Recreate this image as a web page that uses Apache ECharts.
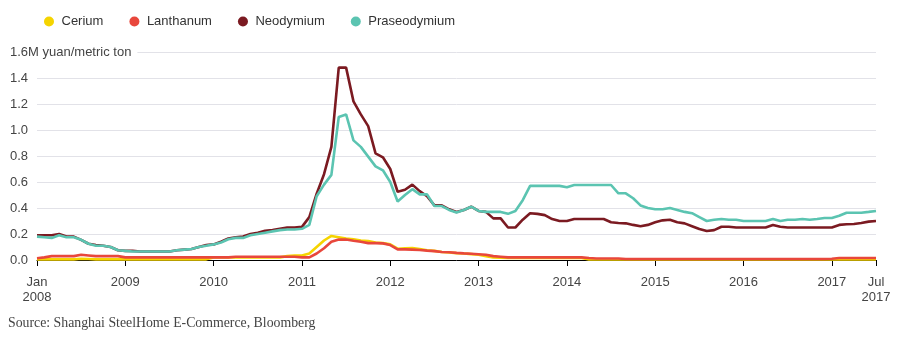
<!DOCTYPE html>
<html>
<head>
<meta charset="utf-8">
<script src="https://cdn.jsdelivr.net/npm/echarts@6/dist/echarts.min.js"></script>
<style>
  html, body { margin: 0; padding: 0; background: #fff; }
  #chart { width: 900px; height: 337px; }
</style>
</head>
<body>
<div id="chart"></div>
<script>
// Monthly observations, Jan 2008 .. Jul 2017 (115 months), million yuan / metric ton
const startYear = 2008, startMonth = 1, monthCount = 115;
const seriesNames = ['Cerium', 'Lanthanum', 'Neodymium', 'Praseodymium'];
const yTicks = [0, 0.2, 0.4, 0.6, 0.8, 1.0, 1.2, 1.4, 1.6];
const yUnitLabel = '1.6M yuan/metric ton';
const sourceText = 'Source: Shanghai SteelHome E-Commerce, Bloomberg';

const cerium = [
  0.005,0.005,0.005,0.005,0.005,0.005,0.01,0.008,0.005,0.005,0.005,0.005,
  0.005,0.005,0.005,0.005,0.005,0.005,0.005,0.005,0.005,0.005,0.005,0.005,
  0.02,0.02,0.02,0.02,0.02,0.02,0.02,0.02,0.02,0.02,0.03,0.035,
  0.035,0.05,0.10,0.15,0.185,0.175,0.165,0.16,0.15,0.145,0.135,0.13,
  0.12,0.087,0.09,0.092,0.085,0.075,0.07,0.062,0.058,0.053,0.05,0.045,
  0.04,0.03,0.02,0.018,0.015,0.015,0.015,0.015,0.015,0.015,0.015,0.015,
  0.015,0.015,0.015,0.004,0.004,0.004,0.004,0.004,0.004,0.004,0.004,0.004,
  0.004,0.004,0.004,0.004,0.004,0.004,0.004,0.004,0.004,0.004,0.004,0.004,
  0.004,0.004,0.004,0.004,0.004,0.004,0.004,0.004,0.004,0.004,0.004,0.004,
  0.004,0.004,0.004,0.004,0.004,0.004,0.004
];
const lanthanum = [
  0.013,0.02,0.03,0.03,0.03,0.03,0.04,0.035,0.03,0.03,0.03,0.03,
  0.02,0.02,0.02,0.02,0.02,0.02,0.02,0.02,0.02,0.02,0.02,0.02,
  0.02,0.02,0.02,0.025,0.025,0.025,0.025,0.025,0.025,0.025,0.025,0.025,
  0.02,0.02,0.05,0.09,0.14,0.158,0.157,0.148,0.14,0.13,0.13,0.128,
  0.115,0.082,0.082,0.08,0.077,0.072,0.068,0.062,0.06,0.055,0.051,0.048,
  0.044,0.04,0.03,0.025,0.02,0.02,0.02,0.02,0.02,0.02,0.02,0.02,
  0.02,0.02,0.02,0.015,0.012,0.012,0.012,0.012,0.008,0.008,0.008,0.008,
  0.008,0.008,0.008,0.008,0.008,0.008,0.008,0.008,0.008,0.008,0.008,0.008,
  0.008,0.008,0.008,0.008,0.008,0.008,0.008,0.008,0.008,0.008,0.008,0.008,
  0.01,0.015,0.015,0.015,0.015,0.015,0.015
];
const neodymium = [
  0.19,0.19,0.19,0.20,0.18,0.18,0.155,0.125,0.115,0.11,0.10,0.075,
  0.07,0.07,0.065,0.065,0.065,0.065,0.065,0.075,0.08,0.085,0.10,0.115,
  0.12,0.14,0.165,0.175,0.18,0.20,0.21,0.225,0.23,0.24,0.25,0.25,
  0.255,0.33,0.51,0.66,0.87,1.48,1.48,1.22,1.12,1.03,0.82,0.79,
  0.70,0.525,0.54,0.58,0.53,0.49,0.42,0.42,0.39,0.37,0.385,0.41,
  0.377,0.37,0.32,0.32,0.25,0.25,0.31,0.36,0.355,0.345,0.315,0.30,
  0.30,0.315,0.315,0.315,0.315,0.315,0.29,0.285,0.282,0.27,0.26,0.27,
  0.29,0.305,0.31,0.29,0.282,0.26,0.238,0.223,0.23,0.256,0.256,0.25,
  0.25,0.25,0.25,0.25,0.27,0.256,0.25,0.25,0.25,0.25,0.25,0.25,
  0.25,0.27,0.275,0.277,0.285,0.295,0.30
];
const praseodymium = [
  0.18,0.175,0.17,0.19,0.175,0.175,0.155,0.125,0.11,0.11,0.10,0.075,
  0.07,0.065,0.065,0.065,0.065,0.065,0.065,0.075,0.08,0.085,0.10,0.11,
  0.12,0.135,0.16,0.17,0.17,0.19,0.20,0.21,0.22,0.23,0.235,0.235,
  0.24,0.27,0.49,0.58,0.655,1.10,1.12,0.92,0.87,0.795,0.72,0.69,
  0.60,0.45,0.50,0.545,0.505,0.505,0.415,0.415,0.385,0.365,0.385,0.41,
  0.377,0.37,0.37,0.37,0.355,0.377,0.46,0.57,0.57,0.57,0.57,0.57,
  0.56,0.577,0.577,0.577,0.577,0.577,0.577,0.513,0.513,0.475,0.42,0.40,
  0.39,0.39,0.40,0.385,0.37,0.36,0.33,0.30,0.31,0.315,0.31,0.31,
  0.30,0.30,0.30,0.30,0.315,0.30,0.31,0.31,0.315,0.31,0.315,0.323,
  0.323,0.34,0.364,0.364,0.364,0.37,0.377
];
const seriesValues = [cerium, lanthanum, neodymium, praseodymium];
const seriesColors = ['#f5d400', '#e8473c', '#7b1a21', '#5bc4b1'];

// month categories
const months = [];
for (let i = 0; i < monthCount; i++) {
  const m = (startMonth - 1 + i) % 12, y = startYear + Math.floor((startMonth - 1 + i) / 12);
  months.push(y + '-' + String(m + 1).padStart(2, '0'));
}
const monthAbbr = ['Jan','Feb','Mar','Apr','May','Jun','Jul','Aug','Sep','Oct','Nov','Dec'];
const lastIdx = monthCount - 1;
const showTick = (idx) => idx % 12 === 0 || idx === lastIdx;

const sans = '"Liberation Sans", Arial, Helvetica, sans-serif';
const chart = echarts.init(document.getElementById('chart'), null, { renderer: 'canvas' });

chart.setOption({
  animation: false,
  backgroundColor: '#fff',
  textStyle: { fontFamily: sans },
  title: {
    text: sourceText,
    left: 3, top: 311,
    textStyle: { fontFamily: '"Liberation Serif", "Times New Roman", serif', fontSize: 13.8, fontWeight: 'normal', color: '#444' }
  },
  legend: {
    data: seriesNames,
    left: 39, top: 10,
    icon: 'circle',
    itemWidth: 15, itemHeight: 10,
    itemGap: 26,
    textStyle: { fontFamily: sans, fontSize: 13, color: '#333' }
  },
  grid: { left: 37, right: 24, top: 52, bottom: 77, containLabel: false },
  xAxis: {
    type: 'category',
    data: months,
    boundaryGap: false,
    axisLine: { show: true, lineStyle: { color: '#000', width: 1 } },
    axisTick: { show: true, length: 6, interval: (idx) => showTick(idx), lineStyle: { color: '#000' } },
    axisLabel: {
      interval: (idx) => showTick(idx),
      margin: 15,
      fontSize: 13,
      lineHeight: 15,
      color: '#444',
      fontFamily: sans,
      formatter: (val, idx) => {
        const [y, m] = val.split('-');
        if (idx === 0 || idx === lastIdx) return monthAbbr[+m - 1] + '\n' + y;
        return y;
      }
    },
    splitLine: { show: false }
  },
  yAxis: {
    type: 'value',
    min: yTicks[0], max: yTicks[yTicks.length - 1], interval: 0.2,
    axisLine: { show: false },
    axisTick: { show: false },
    splitLine: { show: true, lineStyle: { color: '#e2e2e8', width: 1 } },
    axisLabel: {
      align: 'left',
      margin: 27,
      fontSize: 13,
      color: '#444',
      fontFamily: sans,
      formatter: (v) => Math.abs(v - yTicks[yTicks.length - 1]) < 1e-9 ? '{t|' + yUnitLabel + '}' : v.toFixed(1),
      rich: {
        t: { fontSize: 13, color: '#444', fontFamily: sans, backgroundColor: '#fff', padding: [2, 6, 2, 0] }
      }
    }
  },
  series: seriesNames.map((name, k) => ({
    name,
    type: 'line',
    data: seriesValues[k],
    showSymbol: false,
    symbol: 'none',
    smooth: false,
    lineStyle: { width: 2.6, color: seriesColors[k] },
    itemStyle: { color: seriesColors[k] },
    emphasis: { disabled: true }
  }))
});
</script>
</body>
</html>
